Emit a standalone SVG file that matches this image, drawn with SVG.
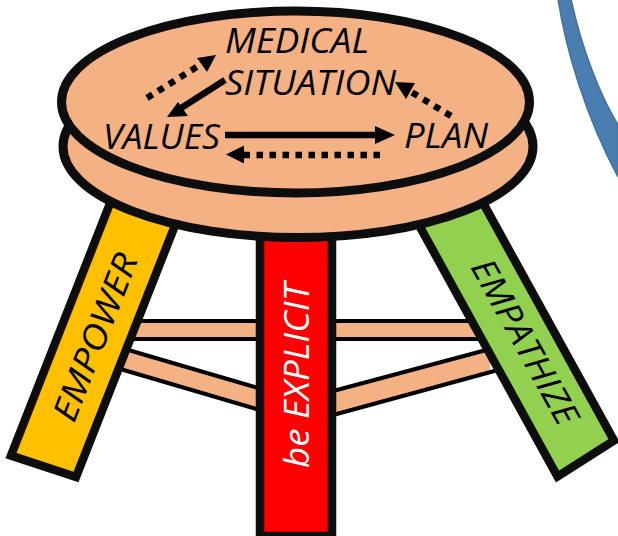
<svg xmlns="http://www.w3.org/2000/svg" width="618" height="536" viewBox="0 0 618 536">
<style>
.seat{fill:#F4B183;stroke:#0d0d0d;stroke-width:9}
.leg{stroke:#0d0d0d;stroke-width:8.500;stroke-linejoin:miter}
.bar{fill:#F4B183}
.barline{stroke:#000;stroke-width:4;fill:none}
.t{font-family:"Open Sans",sans-serif;font-style:italic;font-size:35px;fill:#000}
.solid{stroke:#000;stroke-width:6.500;fill:none}
.dot{stroke:#000;stroke-width:6.500;fill:none;stroke-dasharray:6.500 6.500}
</style>
<rect width="618" height="536" fill="#fff"/>
<path id="blue-curve" d="M558 -1C566 50 585 115 618 177L618 125C600 95 582 50 571 -1Z" fill="#4A7EB0" stroke="#41719C" stroke-width="1.500"/>
<g id="crossbars">
<path class="bar" d="M130 321H500V339H130Z"/>
<path class="barline" d="M130 321H500M130 339H500"/>
<path class="bar" d="M130 351L270 392V413L122 369Z"/>
<path class="barline" d="M130 350.500L270 391.500M122 369.500L270 413"/>
<path class="bar" d="M322 394L490 349V371L322 418Z"/>
<path class="barline" d="M322 394L490 349M322 418L498 370"/>
</g>
<g id="empower"><polygon class="leg" fill="#FFC000" points="120,178 185,200 76,477 11,455.500"/>
<text class="t" transform="translate(74,424) rotate(-68.600)" textLength="177" lengthAdjust="spacingAndGlyphs" style="font-size:34px">EMPOWER</text></g>
<g id="be-explicit"><rect class="leg" fill="#FF0000" x="260" y="180" width="72" height="356"/>
<text class="t" transform="translate(309,468) rotate(-90)" textLength="185" lengthAdjust="spacingAndGlyphs" style="font-size:35px;fill:#fff">be EXPLICIT</text></g>
<g id="empathize"><polygon class="leg" fill="#92D050" points="404.600,199 461,163 614,440.500 557.500,476.500"/>
<text class="t" transform="translate(470,267) rotate(61)" textLength="184" lengthAdjust="spacingAndGlyphs" style="font-size:34px">EMPATHIZE</text></g>
<g id="seat">
<ellipse class="seat" cx="298" cy="146.500" rx="235" ry="91"/>
<ellipse class="seat" cx="295.500" cy="102" rx="234" ry="91"/>
</g>
<g id="medical-situation"><text class="t"><tspan x="225" y="53" textLength="144" lengthAdjust="spacingAndGlyphs">MEDICAL</tspan><tspan x="225" y="95" textLength="171" lengthAdjust="spacingAndGlyphs">SITUATION</tspan></text></g>
<g id="values"><text class="t" x="103" y="149" textLength="117" lengthAdjust="spacingAndGlyphs">VALUES</text></g>
<g id="plan"><text class="t" x="404" y="148" textLength="84" lengthAdjust="spacingAndGlyphs">PLAN</text></g>
<g id="connectors">
<path class="dot" d="M147 98L203 63"/><polygon points="216,55 197,58 207,72"/>
<path class="solid" d="M225 80L178 110"/><polygon points="167,117 178,102 188,116"/>
<path class="solid" d="M225 135H377"/><polygon points="395,135 375,126 375,144"/>
<path class="dot" d="M380 155H244"/><polygon points="226,154.500 244,145.500 244,163.500"/>
<path class="dot" d="M451 116L408 90"/><polygon points="395,82 406,99 415,83"/>
</g>
</svg>
